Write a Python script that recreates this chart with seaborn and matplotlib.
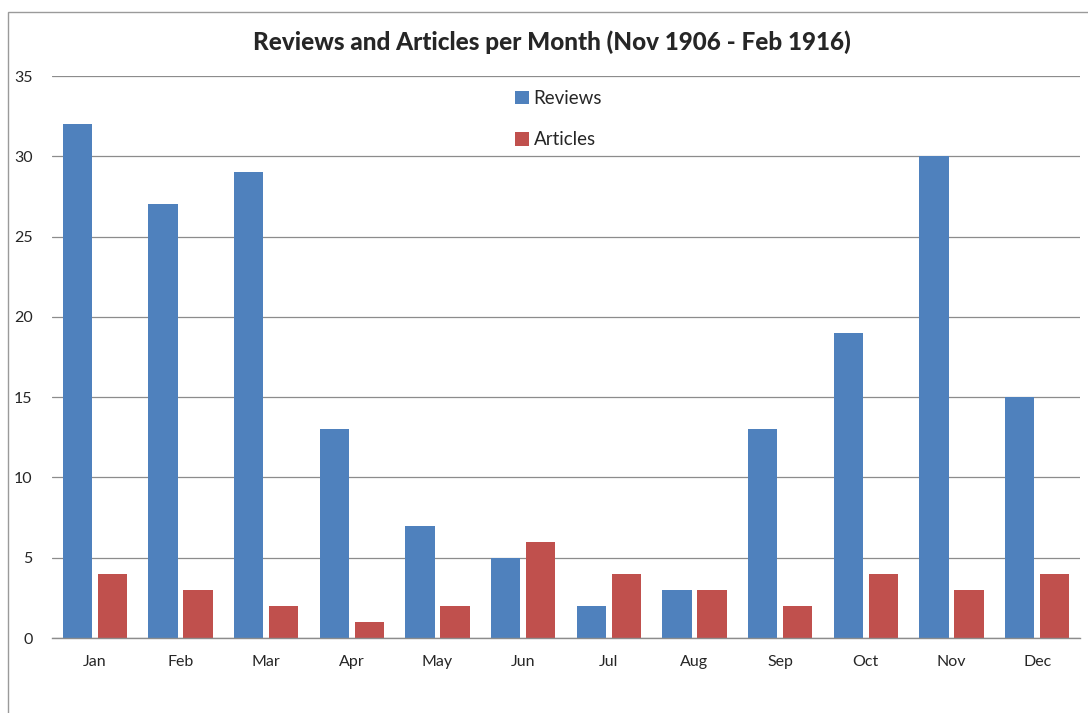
import matplotlib
matplotlib.use("Agg")
import matplotlib.pyplot as plt
import seaborn as sns
import pandas as pd
from matplotlib.patches import Rectangle

months = ["Jan", "Feb", "Mar", "Apr", "May", "Jun", "Jul", "Aug", "Sep", "Oct", "Nov", "Dec"]
reviews = [32, 27, 29, 13, 7, 5, 2, 3, 13, 19, 30, 15]
articles = [4, 3, 2, 1, 2, 6, 4, 3, 2, 4, 3, 4]
series_names = ["Reviews", "Articles"]
yticks = [0, 5, 10, 15, 20, 25, 30, 35]

df = pd.DataFrame({
    "Month": months * 2,
    "Count": reviews + articles,
    "Series": [series_names[0]] * len(months) + [series_names[1]] * len(months),
})

sns.set_theme(style="white")
plt.rcParams["font.family"] = ["Lato", "DejaVu Sans"]

fig = plt.figure(figsize=(10.88, 7.13), dpi=100)
ax = fig.add_axes([52 / 1088, 75 / 713, (1080 - 52) / 1088, (638 - 76) / 713])

sns.barplot(data=df, x="Month", y="Count", hue="Series", order=months,
            hue_order=series_names, palette=["#4F81BD", "#C0504D"],
            saturation=1, width=0.82, gap=0.17, linewidth=0, ax=ax, legend=True)

ax.set_ylim(0, 35)
ax.set_xlim(-0.5, 11.5)
ax.set_yticks(yticks)
ax.set_yticklabels([str(t) for t in yticks], fontsize=11.5)
ax.tick_params(axis="x", labelsize=11.5, pad=12, length=0)
ax.tick_params(axis="y", pad=14, length=0)
ax.set_xlabel("")
ax.set_ylabel("")
ax.yaxis.grid(True, color="#8c8c8c", linewidth=0.9)
ax.set_axisbelow(True)
for s in ["top", "right", "left"]:
    ax.spines[s].set_visible(False)
ax.spines["bottom"].set_color("#8c8c8c")
ax.spines["bottom"].set_linewidth(1.0)

leg = ax.legend(loc="upper left", bbox_to_anchor=((498 - 52) / 1028, 1.005),
                frameon=False, fontsize=13.5, handlelength=0.75, handleheight=0.75,
                handletextpad=0.25, labelspacing=1.3)

fig.text(552 / 1088, 1 - 42 / 713, "Reviews and Articles per Month (Nov 1906 - Feb 1916)",
         ha="center", va="center", fontsize=17.5, fontweight="black")

fig.patches.append(Rectangle((8 / 1088, -0.01), 1.0, 1 - 12 / 713 + 0.01,
                             transform=fig.transFigure, fill=False,
                             edgecolor="#9a9a9a", linewidth=1.0))

fig.savefig("out.png", dpi=100)
